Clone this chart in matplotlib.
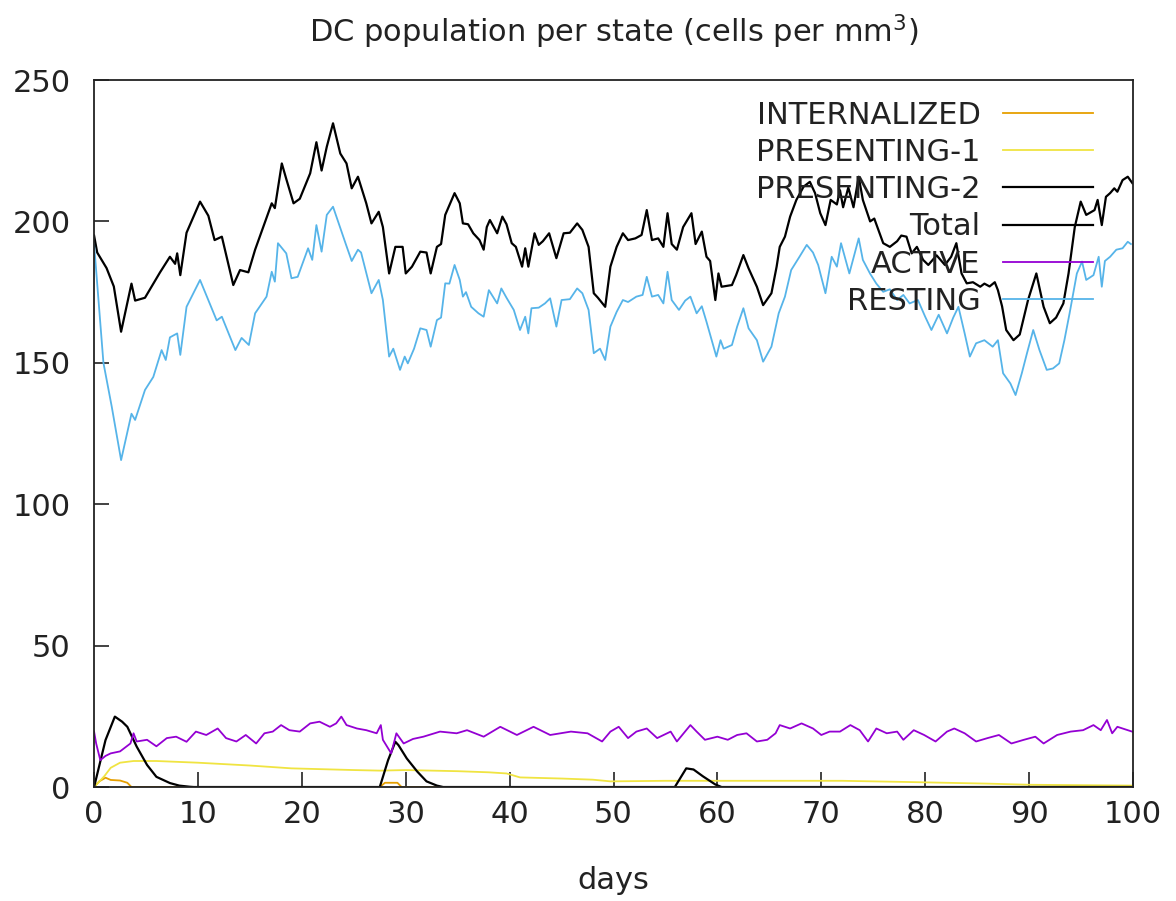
import numpy as np
import matplotlib
matplotlib.use("Agg")
import matplotlib.pyplot as plt

plt.rcParams["font.family"] = ["DejaVu Sans"]

# DC counts per state, sampled along the 100-day run
total_day = [0.0, 0.3, 1.2, 1.9, 2.6, 3.6, 3.95, 4.9, 6.35, 7.3, 7.8, 8.0, 8.3, 8.9, 10.2, 11.0, 11.6, 12.3,
             13.4, 14.05, 14.85, 15.5, 17.1, 17.4, 18.07, 18.5, 19.2, 19.8, 20.8, 21.4, 21.9, 22.4, 23.0,
             23.7, 24.3, 24.8, 25.4, 26.2, 26.7, 27.4, 27.8, 28.4, 29.0, 29.7, 30.0, 30.6, 31.4, 32.0,
             32.4, 33.0, 33.4, 33.8, 34.7, 35.2, 35.5, 36.0, 36.5, 37.1, 37.5, 37.8, 38.1, 38.8, 39.3,
             39.7, 40.2, 40.6, 41.2, 41.5, 41.8, 42.4, 42.8, 43.2, 43.8, 44.5, 45.2, 45.8, 46.5, 47.0,
             47.6, 48.1, 48.5, 49.2, 49.7, 50.3, 50.9, 51.4, 52.1, 52.7, 53.2, 53.7, 54.3, 54.8, 55.2,
             55.6, 56.1, 56.7, 57.5, 57.9, 58.5, 58.95, 59.3, 59.8, 60.1, 60.4, 61.4, 61.8, 62.5, 63.0,
             63.8, 64.4, 65.2, 65.7, 66.0, 66.5, 67.0, 67.6, 68.3, 68.9, 69.4, 69.9, 70.4, 70.9, 71.5,
             71.8, 72.1, 72.6, 73.1, 73.6, 74.0, 74.7, 75.1, 75.96, 76.6, 77.3, 77.7, 78.2, 78.7, 79.2,
             79.8, 80.3, 81.1, 81.9, 82.5, 83.0, 83.5, 84.0, 84.6, 85.3, 85.7, 86.2, 86.7, 87.0, 87.4,
             87.8, 88.5, 89.1, 89.9, 90.7, 91.4, 92.0, 92.6, 93.3, 93.8, 94.4, 94.97, 95.5, 96.3, 96.6,
             97.0, 97.4, 97.8, 98.2, 98.5, 99.0, 99.5, 99.95]
total_val = [195, 189, 183.5, 177, 161, 178, 172, 173, 182, 187.5, 185, 188.7, 181, 196, 207, 202, 193.4, 194.6,
             177.5, 182.8, 182, 190, 206.4, 204.7, 220.5, 215, 206.4, 208, 217, 228, 218, 226.4, 234.7,
             224, 220.5, 211.7, 215.8, 206.4, 199.3, 203.4, 198, 181.6, 191, 191, 181.6, 184, 189.3, 189,
             181.6, 191, 192, 202.3, 210, 206.4, 199.3, 199, 195.8, 193.4, 190, 198, 200.5, 195.8, 201.7,
             199, 192.3, 191, 184, 190.5, 184, 195.8, 191.7, 193, 195.8, 187, 195.8, 196, 199.3, 197,
             191, 174.6, 173, 169.8, 184, 191, 195.8, 193.4, 194, 195.2, 204, 193.4, 194, 191, 202.9,
             192, 190, 198, 202.9, 192, 196.4, 187.5, 186, 172.2, 181.6, 176.9, 177.5, 181, 188.1, 183.4,
             176.9, 170.4, 174.6, 184, 191, 194.6, 201.7, 207.6, 212.3, 214, 210, 202.9, 198.7, 207.6, 206,
             211, 205, 212, 205, 215.8, 207.6, 200, 201, 192.3, 191, 193, 195, 194.6, 188.7, 191,
             186.4, 184.6, 188, 184.6, 187.5, 192.3, 181.6, 178.1, 178.5, 176.9, 178, 177, 178.5, 175.7, 170,
             161.6, 158, 160, 172.2, 181.6, 169.8, 164, 166, 171, 181.6, 198, 207, 202.3, 204, 207.6,
             198.7, 208.7, 210, 211.7, 210.5, 214.6, 215.8, 213.5]

resting_day = [0.0, 0.9, 1.7, 2.6, 3.6, 3.95, 4.9, 5.7, 6.5, 6.9, 7.3, 8.0, 8.3, 8.9, 10.2, 11.8, 12.3, 13.6,
               14.2, 14.9, 15.5, 16.6, 17.1, 17.4, 17.7, 18.5, 19.0, 19.6, 20.6, 21.0, 21.4, 21.9, 22.4,
               23.0, 24.2, 24.8, 25.4, 25.7, 26.7, 27.4, 27.8, 28.4, 28.8, 29.45, 29.9, 30.2, 30.8, 31.4,
               32.0, 32.4, 33.0, 33.4, 33.8, 34.2, 34.7, 35.2, 35.5, 35.8, 36.3, 37.0, 37.5, 38.0, 38.8,
               39.2, 39.7, 40.4, 41.0, 41.5, 41.8, 42.1, 42.8, 43.4, 43.9, 44.5, 45.0, 45.8, 46.5, 47.0,
               47.6, 48.1, 48.7, 49.2, 49.7, 50.3, 50.9, 51.4, 52.2, 52.8, 53.2, 53.7, 54.3, 54.8, 55.2,
               55.6, 56.3, 56.9, 57.4, 58.0, 58.5, 58.95, 59.9, 60.3, 60.6, 61.4, 61.9, 62.5, 63.0, 63.8,
               64.4, 65.2, 65.9, 66.5, 67.1, 67.9, 68.6, 69.2, 69.7, 70.4, 71.0, 71.5, 71.9, 72.7, 73.6,
               74.0, 74.7, 75.3, 75.96, 76.6, 77.3, 77.9, 78.5, 79.3, 80.0, 80.6, 81.3, 82.1, 82.7, 83.2,
               83.8, 84.3, 84.9, 85.7, 86.5, 87.0, 87.5, 88.2, 88.7, 89.3, 89.8, 90.4, 91.0, 91.7, 92.3,
               92.9, 93.4, 93.9, 94.6, 95.1, 95.5, 96.2, 96.7, 97.0, 97.3, 97.8, 98.4, 99.0, 99.5, 99.8]
resting_val = [192, 150, 134.5, 115.6, 132, 129.8, 140.4, 145, 154.5, 151, 159, 160.4, 152.8, 169.8, 179.3, 165, 166.3, 154.5,
               158.8, 156.3, 167.5, 173.4, 182.2, 178.7, 192.3, 188.7, 179.9, 180.4, 190.5, 186.4, 198.7, 189.3, 202.3,
               205.2, 192.3, 186, 190, 189, 174.6, 179.3, 172.2, 152.2, 155, 147.5, 152.2, 149.8, 155, 162.2,
               161.6, 155.7, 165.1, 166, 178.1, 178, 184.6, 179.3, 173.4, 175, 169.8, 167.5, 166.3, 175.7, 171,
               176.3, 173, 168.7, 161.6, 166.3, 160.4, 169.3, 169.5, 171, 172.8, 162.8, 172.2, 172.5, 176.3, 174.6,
               168.7, 153.4, 155, 151, 162.8, 168, 172.2, 171.5, 173.4, 174, 180.4, 173.4, 174, 171, 182.2,
               172.2, 168.7, 172, 173.4, 167.5, 170, 164.5, 152.2, 158, 155, 156.3, 162.8, 169.3, 162.2, 158,
               150.4, 155.7, 167.5, 173.4, 182.8, 187.5, 191.7, 189, 184.6, 174.6, 187.5, 184, 192.3, 181.6, 194,
               186.4, 181.5, 178, 175.1, 176, 172.2, 174, 171, 172.2, 166.3, 161.6, 167, 160.4, 166, 169.8,
               160.4, 152.2, 156.9, 158, 155.7, 158, 146.3, 142.7, 138.6, 146.3, 153.4, 161.6, 154.5, 147.5, 148,
               149.8, 158, 167.5, 181.6, 185.8, 179.3, 181, 187.5, 176.9, 186, 187.5, 190, 190.5, 192.8, 192]

active_day = [0.0, 0.2, 0.6, 1.1, 1.6, 2.5, 3.5, 3.8, 4.1, 5.1, 6.0, 7.0, 7.9, 8.9, 9.8, 10.8, 11.9, 12.7,
              13.7, 14.6, 15.6, 16.4, 17.2, 18.0, 18.8, 19.8, 20.8, 21.7, 22.7, 23.3, 23.8, 24.3, 25.3,
              26.2, 27.2, 27.6, 27.8, 28.3, 28.6, 29.1, 29.8, 30.7, 31.7, 33.3, 34.9, 35.9, 37.5, 39.1,
              40.7, 42.3, 43.9, 45.9, 47.5, 48.9, 49.7, 50.5, 51.4, 52.2, 53.2, 54.2, 55.5, 56.1, 57.4,
              58.0, 58.8, 60.0, 61.0, 61.9, 62.8, 63.8, 64.8, 65.6, 66.0, 67.0, 68.1, 69.2, 70.0, 70.8,
              71.8, 72.8, 73.7, 74.5, 75.3, 76.3, 77.3, 77.9, 78.9, 79.9, 81.0, 82.1, 82.8, 83.8, 84.9,
              86.0, 87.1, 88.3, 89.5, 90.6, 91.4, 92.7, 94.0, 95.2, 96.2, 96.9, 97.5, 98.0, 98.5, 99.5, 100.0]
active_val = [19.6, 15.4, 9.5, 11, 11.9, 12.6, 15.4, 19, 16.1, 16.7, 14.4, 17.3, 17.8, 16, 19.6, 18.4, 20.7, 17.3,
              16.1, 18.4, 15.4, 19, 19.6, 21.9, 20.1, 19.6, 22.5, 23.1, 21.3, 22.5, 24.9, 21.9, 20.7,
              20.1, 19, 21.9, 16.7, 13.7, 11.9, 19, 15.4, 17, 17.8, 19.6, 19, 20.1, 17.8, 21.3,
              18.4, 21.3, 18.4, 19.6, 19, 16.1, 19.6, 21.3, 17.3, 19.6, 20.7, 17.3, 19.6, 16.1, 21.9,
              19.6, 16.7, 17.8, 16.7, 18.4, 19, 16.1, 16.7, 19, 21.9, 20.7, 22.5, 20.7, 18.4, 19.6,
              19.6, 21.9, 20.1, 16.1, 20.7, 19, 19.6, 16.7, 20.1, 18.4, 16.1, 19.6, 20.7, 19, 16.1,
              17.3, 18.4, 15.4, 16.7, 17.8, 15.4, 18.4, 19.6, 20.1, 21.9, 20.1, 23.7, 19, 21.3, 20.1, 19.5]

pres2_day = [0.0, 1.1, 2.0, 2.7, 3.2, 4.1, 5.1, 6.0, 7.3, 8.2, 9.2, 9.6, 27.5, 28.3, 29.0, 29.3, 30.1,
             31.1, 32.0, 33.0, 33.6, 55.9, 57.0, 57.7, 58.6, 59.8, 60.4, 100.0]
pres2_val = [0, 16.6, 24.9, 23.1, 21.3, 14.3, 7.8, 3.6, 1.4, 0.5, 0.1, 0, 0, 9.5, 16, 14.8, 10.1,
             5.5, 2.0, 0.5, 0, 0, 6.6, 6.2, 3.8, 0.9, 0, 0]

pres1_day = [0.0, 1.0, 1.6, 2.5, 3.8, 6.0, 10.0, 15.0, 19.0, 25.0, 27.5, 30.0, 35.0, 38.0, 39.7, 41.0,
             45.0, 48.0, 49.7, 55.0, 60.0, 72.0, 78.0, 86.0, 90.0, 100.0]
pres1_val = [0, 3.9, 6.8, 8.6, 9.2, 9.2, 8.6, 7.6, 6.6, 6.0, 5.8, 6.0, 5.6, 5.2, 4.8, 3.4,
             3.0, 2.6, 2.0, 2.2, 2.2, 2.2, 1.8, 1.2, 0.8, 0.5]

intern_day = [0.0, 0.5, 1.1, 1.6, 2.5, 3.2, 3.6, 27.5, 28.0, 29.2, 29.6, 100.0]
intern_val = [0, 2.0, 3.3, 2.5, 2.3, 1.5, 0, 0, 1.5, 1.5, 0, 0]

series = [
    ("INTERNALIZED", intern_day, intern_val, "#e69f00", 1.3),
    ("PRESENTING-1", pres1_day, pres1_val, "#f0e442", 1.3),
    ("PRESENTING-2", pres2_day, pres2_val, "#000000", 1.6),
    ("Total", total_day, total_val, "#000000", 1.6),
    ("ACTIVE", active_day, active_val, "#9400d3", 1.3),
    ("RESTING", resting_day, resting_val, "#56b4e9", 1.3),
]

FS = 22
fig = plt.figure(figsize=(11.76, 9.01), dpi=100)
ax = fig.add_axes([0.080, 0.1265, 0.8834, 0.7847])

for name, d, v, col, lw in series:
    ax.plot(d, v, color=col, lw=lw, label=name)

ax.set_xlim(0, 100)
ax.set_ylim(0, 250)
ax.set_xticks(np.arange(0, 101, 10))
ax.set_yticks(np.arange(0, 251, 50))
ax.tick_params(direction="in", length=11, width=1.2, labelsize=FS, colors="#222",
               top=False, right=False)
ax.tick_params(axis="x", pad=9)
ax.tick_params(axis="y", pad=17)
for sp in ax.spines.values():
    sp.set_linewidth(1.3)
    sp.set_color("#222")

ax.set_title("DC population per state (cells per mm$^3$)", fontsize=FS, pad=27, color="#222")
ax.set_xlabel("days", fontsize=FS, labelpad=27, color="#222")

leg = ax.legend(loc="upper right", bbox_to_anchor=(0.962, 0.971), frameon=False, fontsize=FS,
                markerfirst=False, handlelength=2.95, handletextpad=0.75, labelspacing=0.27,
                borderpad=0, borderaxespad=0)
for t in leg.get_texts():
    t.set_color("#222")

fig.savefig("out.png", dpi=100)
